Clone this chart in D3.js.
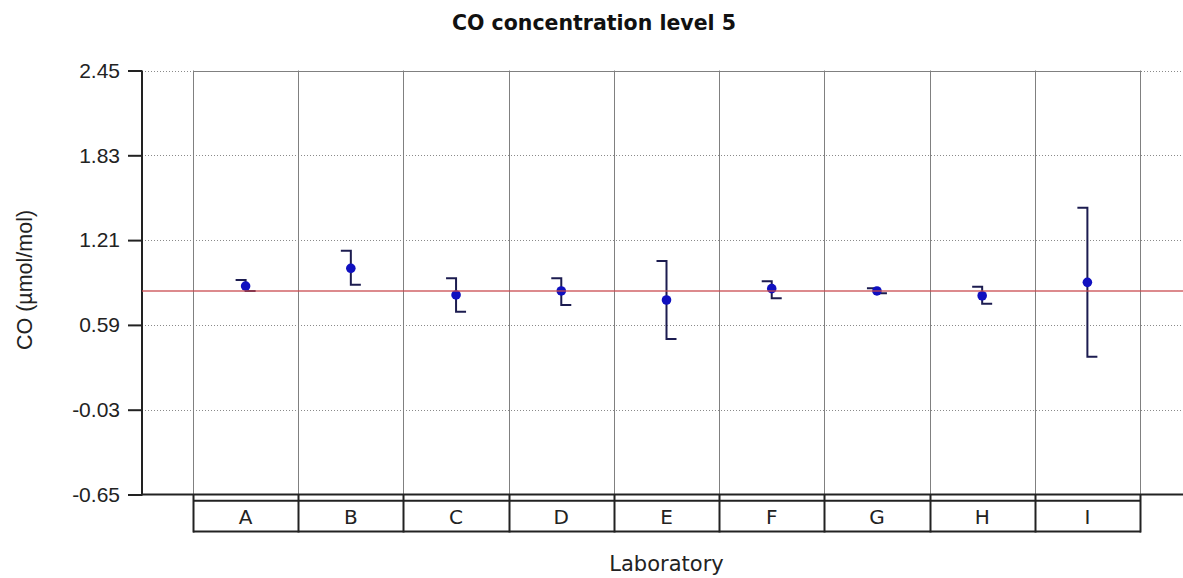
<!DOCTYPE html>
<html><head><meta charset="utf-8">
<script src="https://cdn.jsdelivr.net/npm/d3@7"></script>
<style>
html,body{margin:0;padding:0;background:#fff;}
svg{display:block;font-family:"Liberation Sans",Arial,sans-serif;}
</style></head><body>
<svg id="c" width="1183" height="578"></svg>
<script>
const labs = ["A","B","C","D","E","F","G","H","I"];
const values = [0.874, 1.004, 0.809, 0.838, 0.772, 0.855, 0.838, 0.803, 0.901];
const upper  = [0.918, 1.133, 0.931, 0.931, 1.057, 0.909, 0.858, 0.869, 1.447];
const lower  = [0.838, 0.884, 0.687, 0.735, 0.487, 0.784, 0.821, 0.745, 0.357];
const refValue = 0.838;
const yTicks = [-0.65, -0.03, 0.59, 1.21, 1.83, 2.45];
const title = "CO concentration level 5";
const yTitle = "CO (µmol/mol)";
const xTitle = "Laboratory";

(function(){
const W = 1183, H = 578;
const axisX = 142, plotL = 193, plotR = 1140, plotTop = 70.5, plotBot = 494.5;
const svg = d3.select("#c");
const y = d3.scaleLinear().domain([-0.65, 2.45]).range([plotBot, plotTop]);
const x = d3.scaleBand().domain(labs).range([plotL, plotR]).padding(0);
const fmt = d => d.toFixed(2);

// dotted gridlines
svg.append("g").selectAll("line").data(yTicks.filter(t => t > -0.65)).join("line")
  .attr("x1", axisX).attr("x2", W).attr("y1", d => Math.round(y(d)) + 0.5).attr("y2", d => Math.round(y(d)) + 0.5)
  .attr("stroke", "#8a8a8a").attr("stroke-width", 1).attr("stroke-dasharray", "1,2");

// column verticals
const edges = labs.map(l => x(l)).concat([plotR]);
svg.append("g").selectAll("line").data(edges).join("line")
  .attr("x1", d => Math.round(d) + 0.5).attr("x2", d => Math.round(d) + 0.5)
  .attr("y1", plotTop).attr("y2", plotBot).attr("stroke", "#808080").attr("stroke-width", 1);
svg.append("line").attr("x1", plotL).attr("x2", plotR).attr("y1", Math.round(plotTop) + 0.5).attr("y2", Math.round(plotTop) + 0.5)
  .attr("stroke", "#808080").attr("stroke-width", 1);

// y axis
const yAxis = d3.axisLeft(y).tickValues(yTicks).tickFormat(fmt).tickSize(14).tickPadding(8);
const ga = svg.append("g").attr("transform", `translate(${axisX},0)`).call(yAxis);
ga.select(".domain").remove();
ga.selectAll(".tick line").attr("stroke", "#222").attr("stroke-width", 2);
ga.selectAll(".tick text").attr("font-size", 21).attr("fill", "#222")
  .attr("font-family", "'Liberation Sans', Arial, sans-serif");
svg.append("line").attr("x1", axisX).attr("x2", axisX).attr("y1", plotTop).attr("y2", plotBot + 1)
  .attr("stroke", "#222").attr("stroke-width", 2);

// bottom axis line
svg.append("line").attr("x1", axisX).attr("x2", W).attr("y1", plotBot).attr("y2", plotBot)
  .attr("stroke", "#222").attr("stroke-width", 2);

// category box
const boxTop = 500.7, boxBot = 531.5;
svg.append("line").attr("x1", plotL).attr("x2", plotR + 1).attr("y1", boxTop).attr("y2", boxTop).attr("stroke", "#222").attr("stroke-width", 2);
svg.append("line").attr("x1", plotL).attr("x2", plotR + 1).attr("y1", boxBot).attr("y2", boxBot).attr("stroke", "#222").attr("stroke-width", 2);
svg.append("g").selectAll("line").data(edges).join("line")
  .attr("x1", d => Math.round(d) + 0.5).attr("x2", d => Math.round(d) + 0.5)
  .attr("y1", plotBot).attr("y2", boxBot + 1).attr("stroke", "#222").attr("stroke-width", 2);
svg.append("g").selectAll("text").data(labs).join("text")
  .attr("x", d => x(d) + x.bandwidth() / 2).attr("y", 524).attr("text-anchor", "middle")
  .attr("font-family", "'DejaVu Sans', sans-serif")
  .attr("font-size", 20).attr("fill", "#222").text(d => d);

// error bars
const cx = l => x(l) + x.bandwidth() / 2;
const eb = svg.append("g").attr("stroke", "#1c1c50").attr("stroke-width", 2).attr("fill", "none");
labs.forEach((l, i) => {
  const c = cx(l);
  eb.append("path").attr("d",
    `M${c - 10},${y(upper[i])}H${c}V${y(lower[i])}H${c + 10}`);
});
// points
svg.append("g").selectAll("circle").data(labs).join("circle")
  .attr("cx", d => cx(d)).attr("cy", (d, i) => y(values[i])).attr("r", 4.8)
  .attr("fill", "#1010c0");

// reference line (drawn on top)
svg.append("line").attr("x1", axisX).attr("x2", W).attr("y1", y(refValue)).attr("y2", y(refValue))
  .attr("stroke", "#c8464b").attr("stroke-width", 1.5).attr("stroke-opacity", 0.85);

// titles
svg.append("text").attr("x", 594).attr("y", 30).attr("text-anchor", "middle")
  .attr("font-family", "'DejaVu Sans', sans-serif")
  .attr("font-size", 20.5).attr("font-weight", "bold").attr("fill", "#111").text(title);
svg.append("text").attr("x", (plotL + plotR) / 2).attr("y", 571).attr("text-anchor", "middle")
  .attr("font-family", "'DejaVu Sans', sans-serif")
  .attr("font-size", 21).attr("fill", "#222").text(xTitle);
svg.append("text").attr("transform", "translate(32,280) rotate(-90)").attr("text-anchor", "middle")
  .attr("font-size", 21.5).attr("fill", "#222").text(yTitle);
})();
</script>
</body></html>
